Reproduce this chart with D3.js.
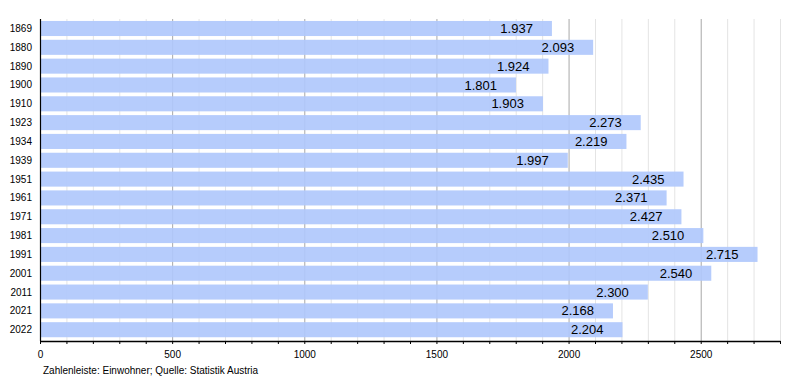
<!DOCTYPE html>
<html><head><meta charset="utf-8">
<script src="https://cdn.jsdelivr.net/npm/d3@7"></script>
<style>body{margin:0;background:#fff}svg{display:block;font-family:"Liberation Sans",Arial,sans-serif}</style>
</head><body><svg id="c" width="800" height="380"></svg>
<script>
const years = ["1869","1880","1890","1900","1910","1923","1934","1939","1951","1961","1971","1981","1991","2001","2011","2021","2022"];
const population = [1937,2093,1924,1801,1903,2273,2219,1997,2435,2371,2427,2510,2715,2540,2300,2168,2204];
const axisTicks = [0,500,1000,1500,2000,2500];
const footnote = "Zahlenleiste: Einwohner; Quelle: Statistik Austria";

const svg = d3.select("#c");
const x = d3.scaleLinear().domain([0,2800]).range([40,780]);
const y = d3.scaleBand().domain(years).range([17.2,341]).padding(0.2);
const axisY = 341;
const gridTop = 19;

const minor = d3.range(100,2801,100);
svg.append("g").selectAll("line").data(minor).join("line")
  .attr("x1",d=>x(d)+0.5).attr("x2",d=>x(d)+0.5)
  .attr("y1",gridTop).attr("y2",axisY)
  .attr("stroke",d=>d%500===0?"#a8a8a8":"#e4e4e4").attr("stroke-width",1);

svg.append("g").selectAll("rect").data(years).join("rect")
  .attr("x",x(0)).attr("y",d=>y(d))
  .attr("width",(d,i)=>x(population[i])-x(0))
  .attr("height",y.bandwidth())
  .attr("fill","#b0c8fc").attr("fill-opacity",0.92);

const fmt = d3.formatLocale({decimal:",",thousands:".",grouping:[3],currency:["","€"]}).format(",d");
svg.append("g").selectAll("text").data(years).join("text")
  .attr("x",(d,i)=>x(population[i])-19)
  .attr("y",d=>y(d)+y.bandwidth()/2)
  .attr("dy","0.35em").attr("text-anchor","end")
  .attr("font-size",13).attr("fill","#000")
  .text((d,i)=>fmt(population[i]));

svg.append("g").selectAll("text").data(years).join("text")
  .attr("x",32).attr("y",d=>y(d)+y.bandwidth()/2)
  .attr("dy","0.35em").attr("text-anchor","end")
  .attr("font-size",10).attr("fill","#000").text(d=>d);

svg.append("line").attr("x1",40.5).attr("x2",40.5).attr("y1",gridTop).attr("y2",axisY)
  .attr("stroke","#000").attr("stroke-width",1.2);

const xAxis = d3.axisBottom(x).tickValues(d3.range(0,2801,100)).tickSize(3).tickSizeOuter(0)
  .tickFormat(d=>axisTicks.includes(d)?String(d):"");
const gx = svg.append("g").attr("transform",`translate(0,${axisY})`).call(xAxis);
gx.select(".domain").attr("stroke","#000").attr("stroke-width",1.5);
gx.selectAll(".tick line").attr("stroke","#000");
gx.selectAll(".tick text").attr("font-size",10).attr("fill","#000").attr("font-family","Liberation Sans, Arial, sans-serif").attr("y",10);

svg.append("text").attr("x",43).attr("y",373.5).attr("font-size",10).attr("fill","#000").text(footnote);
</script></body></html>
